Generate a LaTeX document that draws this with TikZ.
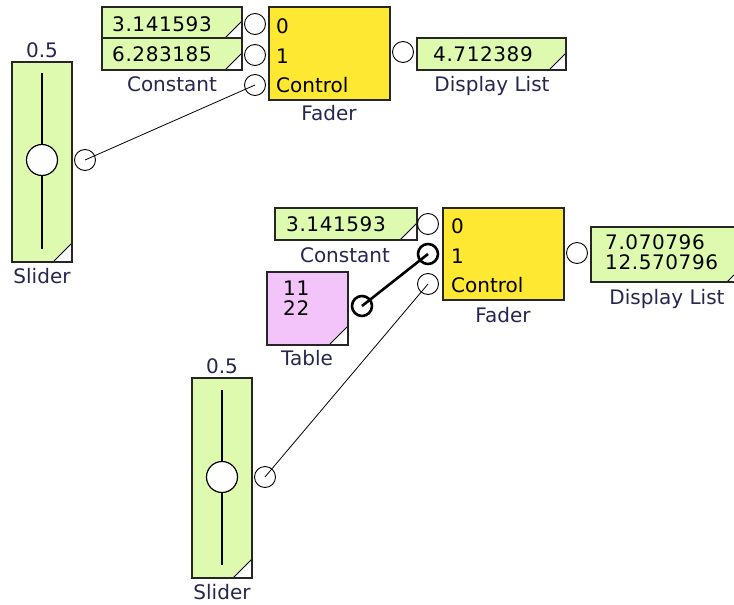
\documentclass[tikz,border=0pt]{standalone}
\usepackage{fontspec}
\setmainfont{DejaVu Sans}
\definecolor{gfill}{RGB}{221,250,174}
\definecolor{yfill}{RGB}{255,232,50}
\definecolor{pfill}{RGB}{242,196,250}
\definecolor{lbl}{RGB}{38,38,80}
\newcommand\cornercut[2]{%
 \fill[white] ([xshift=-#2pt]#1.south east) -- ([yshift=#2pt]#1.south east) -- (#1.south east) -- cycle;
 \draw[line width=1pt] ([xshift=-#2pt]#1.south east) -- ([yshift=#2pt]#1.south east);
 \draw[boxline] (#1.south west) rectangle (#1.north east);}
\tikzset{
 boxline/.style={draw=black!85, line width=1.6pt},
 blk/.style={anchor=north west, inner sep=0, outer sep=0, boxline},
 gbox/.style={blk, fill=gfill},
 ybox/.style={blk, fill=yfill},
 pbox/.style={blk, fill=pfill},
 txt/.style={inner sep=0, anchor=base west, font=\fontsize{20pt}{20pt}\selectfont, text=black},
 num/.style={txt, font=\fontsize{20pt}{20pt}\selectfont\addfontfeatures{LetterSpace=3}},
 lab/.style={inner sep=0, anchor=base, font=\fontsize{20pt}{20pt}\selectfont, text=lbl},
 port/.style={circle, draw=black, fill=white, line width=0.9pt, minimum size=21pt, inner sep=0},
 tport/.style={port, line width=2.6pt, minimum size=20pt},
 knob/.style={circle, draw=black, fill=white, line width=1.2pt, minimum size=31pt, inner sep=0},
 track/.style={draw=black, line width=1.5pt},
 wire/.style={draw=black, line width=0.8pt},
 twire/.style={draw=black, line width=2.6pt}
}
\begin{document}
\begin{tikzpicture}[x=1pt,y=-1pt]
\useasboundingbox[fill=white] (0,0) rectangle (734,605);
\clip (0,0) rectangle (734,605);

% ---------- group 1 ----------
% slider
\node[gbox, minimum width=60pt, minimum height=200pt] (sl1) at (12,62) {};
\cornercut{sl1}{19}
\coordinate (sl1t) at (42,73);
\coordinate (sl1b) at (42,249);
\draw[track] (sl1t) -- (sl1b);
\node[knob] (kn1) at (42,160) {};
\node[lab] (sl1v) at (42,57) {0.5};
\node[lab] (sl1l) at (42,283) {Slider};
\node[port] (sl1p) at (85,160) {};

% constants
\node[gbox, minimum width=140pt, minimum height=31pt] (ca) at (102,7) {};
\cornercut{ca}{17}
\node[gbox, minimum width=140pt, minimum height=32pt] (cb) at (102,38) {};
\cornercut{cb}{17}
\node[num] (cat) at (112,31) {3.141593};
\node[num] (cbt) at (112,61) {6.283185};
\node[lab] (cl1) at (172,91) {Constant};

% fader
\node[ybox, minimum width=121pt, minimum height=93pt] (fd1) at (269,7) {};
\node[txt] (fd1a) at (276,33) {0};
\node[txt] (fd1b) at (276,63) {1};
\node[txt] (fd1c) at (276,92) {Control};
\node[lab] (fd1l) at (329,120) {Fader};
\node[port] (f1p0) at (255,24) {};
\node[port] (f1p1) at (255,55) {};
\node[port] (f1pc) at (255,85) {};
\node[port] (f1po) at (403,52) {};

% display list
\node[gbox, minimum width=149pt, minimum height=32pt] (dl1) at (417,38) {};
\cornercut{dl1}{17}
\node[num] (dl1t) at (433,61) {4.712389};
\node[lab] (dl1l) at (492,91) {Display List};

\draw[wire] (sl1p.center) -- (f1pc.center);

% ---------- group 2 ----------
\node[gbox, minimum width=142pt, minimum height=32pt] (cc) at (275,208) {};
\cornercut{cc}{17}
\node[num] (cct) at (286,231) {3.141593};
\node[lab] (cl2) at (345,262) {Constant};

\node[ybox, minimum width=121pt, minimum height=92pt] (fd2) at (443,208) {};
\node[txt] (fd2a) at (451,233) {0};
\node[txt] (fd2b) at (451,263) {1};
\node[txt] (fd2c) at (451,292) {Control};
\node[lab] (fd2l) at (503,322) {Fader};
\node[port] (f2p0) at (428,224) {};
\node[tport] (f2p1) at (428,254) {};
\node[port] (f2pc) at (428,284) {};
\node[port] (f2po) at (577,253) {};

\node[gbox, minimum width=153pt, minimum height=55pt] (dl2) at (591,227) {};
\cornercut{dl2}{17}
\node[num] (dl2a) at (605,249) {7.070796};
\node[num] (dl2b) at (605,269) {12.570796};
\node[lab] (dl2l) at (667,304) {Display List};

\node[pbox, minimum width=81pt, minimum height=73pt] (tb) at (267,272) {};
\cornercut{tb}{19}
\node[num] (tba) at (283,295) {11};
\node[num] (tbb) at (283,315) {22};
\node[lab] (tbl) at (307,365) {Table};
\node[tport] (tbp) at (362,306) {};

\node[gbox, minimum width=60pt, minimum height=200pt] (sl2) at (192,378) {};
\cornercut{sl2}{19}
\coordinate (sl2t) at (222,390);
\coordinate (sl2b) at (222,565);
\draw[track] (sl2t) -- (sl2b);
\node[knob] (kn2) at (222,477) {};
\node[lab] (sl2v) at (222,373) {0.5};
\node[lab] (sl2l) at (222,599) {Slider};
\node[port] (sl2p) at (265,477) {};

\draw[twire] (tbp.center) -- (f2p1.center);
\draw[wire] (sl2p.center) -- (f2pc.center);
\end{tikzpicture}
\end{document}
